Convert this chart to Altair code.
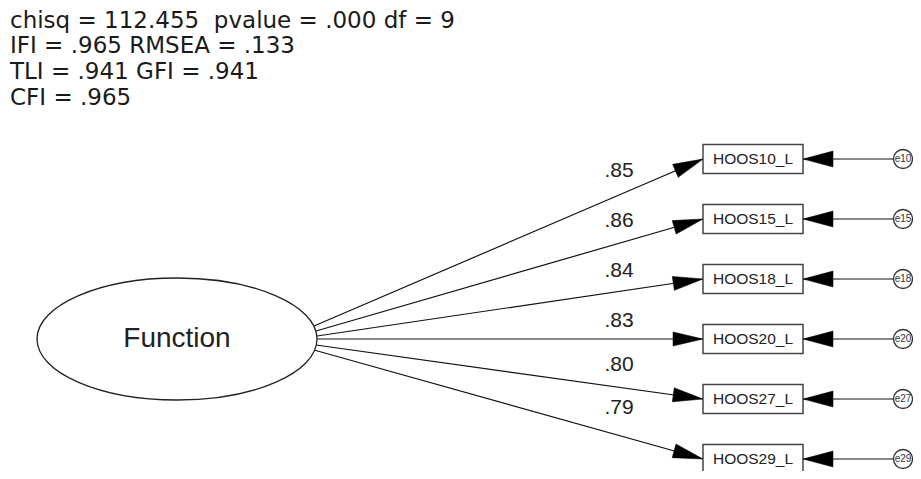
import math
import altair as alt
import pandas as pd

# ---- chart content -------------------------------------------------------
fit_lines = [
    "chisq = 112.455\u00a0 pvalue = .000 df = 9",
    "IFI = .965 RMSEA = .133",
    "TLI = .941 GFI = .941",
    "CFI = .965",
]
latent = "Function"
indicators = ["HOOS10_L", "HOOS15_L", "HOOS18_L", "HOOS20_L", "HOOS27_L", "HOOS29_L"]
loadings = [".85", ".86", ".84", ".83", ".80", ".79"]
errors = ["e10", "e15", "e18", "e20", "e27", "e29"]

# ---- layout (reference pixel coordinates) -----------------------------------
fit_x = 10
fit_y = [21, 46, 72, 98]
latent_x, latent_y = 177, 339
latent_rx, latent_ry = 140, 61
box_y = [159, 219, 279, 339, 399, 459]
box_left, box_right, box_half_h = 703, 803, 14.5
start_x = [314, 316, 317, 317, 316, 314]
start_y = [326, 331, 336, 339, 345, 350]
label_x = 619
label_y = [171, 221, 271, 321, 365, 408]
err_x, err_r = 903, 9.5

FONT = "Liberation Sans"
WIDE = "DejaVu Sans"

xs = alt.Scale(domain=[8, 913], nice=False, zero=False)
ys = alt.Scale(domain=[8, 471], nice=False, zero=False, reverse=True)


def X(f="x"):
    return alt.X(f"{f}:Q", scale=xs, axis=None)


def Y(f="y"):
    return alt.Y(f"{f}:Q", scale=ys, axis=None)


# fit statistics text
fit_df = pd.DataFrame({"x": [fit_x] * len(fit_lines), "y": fit_y, "t": fit_lines})
fit = alt.Chart(fit_df).mark_text(
    align="left", baseline="middle", font=WIDE, fontSize=23, color="#1a1a1a"
).encode(x=X(), y=Y(), text="t:N")

# regression paths
paths_df = pd.DataFrame({
    "x": start_x, "y": start_y,
    "x2": [box_left] * 6, "y2": box_y,
})
paths = alt.Chart(paths_df).mark_rule(color="#111", strokeWidth=1.2).encode(
    x=X(), y=Y(), x2=alt.X2("x2:Q"), y2=alt.Y2("y2:Q")
)

ARROW = "M0,0L-2,-0.47L-2,0.47Z"
heads_df = pd.DataFrame({
    "x": [box_left] * 6, "y": box_y,
    "ang": [(math.degrees(math.atan2(by - sy, box_left - sx)) + 360) % 360
            for sx, sy, by in zip(start_x, start_y, box_y)],
})
heads = alt.Chart(heads_df).mark_point(
    shape=ARROW, size=900, filled=True, fill="#000", stroke="#000",
    strokeWidth=0.5, opacity=1
).encode(x=X(), y=Y(), angle=alt.Angle("ang:Q", scale=None))

# latent ellipse
k = latent_ry / latent_rx
c = 0.5523
ELLIPSE = (
    f"M1,0C1,{c*k:.4f} {c},{k:.4f} 0,{k:.4f}"
    f"C{-c},{k:.4f} -1,{c*k:.4f} -1,0"
    f"C-1,{-c*k:.4f} {-c},{-k:.4f} 0,{-k:.4f}"
    f"C{c},{-k:.4f} 1,{-c*k:.4f} 1,0Z"
)
lat_df = pd.DataFrame({"x": [latent_x], "y": [latent_y], "t": [latent]})
ellipse = alt.Chart(lat_df).mark_point(
    shape=ELLIPSE, size=(2 * latent_rx) ** 2, filled=True, fill="white",
    stroke="#222", strokeWidth=1.3, opacity=1, fillOpacity=1
).encode(x=X(), y=Y())
lat_text = alt.Chart(lat_df).mark_text(
    font=FONT, fontSize=28, color="#222", baseline="middle"
).encode(x=X(), y=Y(), text="t:N")

# observed boxes
box_df = pd.DataFrame({
    "x": [box_left] * 6, "x2": [box_right] * 6,
    "y": [b - box_half_h for b in box_y], "y2": [b + box_half_h for b in box_y],
    "cx": [(box_left + box_right) / 2] * 6, "cy": box_y, "t": indicators,
})
boxes = alt.Chart(box_df).mark_rect(
    fill="white", stroke="#444", strokeWidth=1.5
).encode(x=X(), y=Y(), x2=alt.X2("x2:Q"), y2=alt.Y2("y2:Q"))
box_text = alt.Chart(box_df).mark_text(
    font=FONT, fontSize=15.5, color="#222", baseline="middle"
).encode(x=X("cx"), y=Y("cy"), text="t:N")

# error terms
err_df = pd.DataFrame({
    "x": [err_x] * 6, "y": box_y, "t": errors,
    "x1": [err_x - err_r] * 6, "x2": [box_right] * 6,
})
err_lines = alt.Chart(err_df).mark_rule(color="#111", strokeWidth=1.2).encode(
    x=X("x1"), y=Y(), x2=alt.X2("x2:Q")
)
err_heads_df = pd.DataFrame({"x": [box_right] * 6, "y": box_y, "ang": [180] * 6})
err_heads = alt.Chart(err_heads_df).mark_point(
    shape="M0,0L-2,-0.53L-2,0.53Z", size=900, filled=True, fill="#000",
    stroke="#000", strokeWidth=0.5, opacity=1
).encode(x=X(), y=Y(), angle=alt.Angle("ang:Q", scale=None))
err_circ = alt.Chart(err_df).mark_point(
    shape="circle", size=(2 * err_r) ** 2, filled=True, fill="white",
    stroke="#333", strokeWidth=1.3, opacity=1, fillOpacity=1
).encode(x=X(), y=Y())
err_text = alt.Chart(err_df).mark_text(
    font=FONT, fontSize=10, color="#333", baseline="middle"
).encode(x=X(), y=Y(), text="t:N")

# loadings
lab_df = pd.DataFrame({"x": [label_x] * 6, "y": label_y, "t": loadings})
labels = alt.Chart(lab_df).mark_text(
    font=FONT, fontSize=21, color="#222", baseline="middle"
).encode(x=X(), y=Y(), text="t:N")

chart = alt.layer(
    fit, paths, heads, ellipse, lat_text, err_lines, boxes, box_text,
    err_heads, err_circ, err_text, labels
).properties(
    width=905, height=463, padding=0,
    autosize=alt.AutoSizeParams(type="none"), background="white"
).configure_view(strokeWidth=0)

chart.save("out.html", embed_options={"renderer": "svg", "actions": False})
